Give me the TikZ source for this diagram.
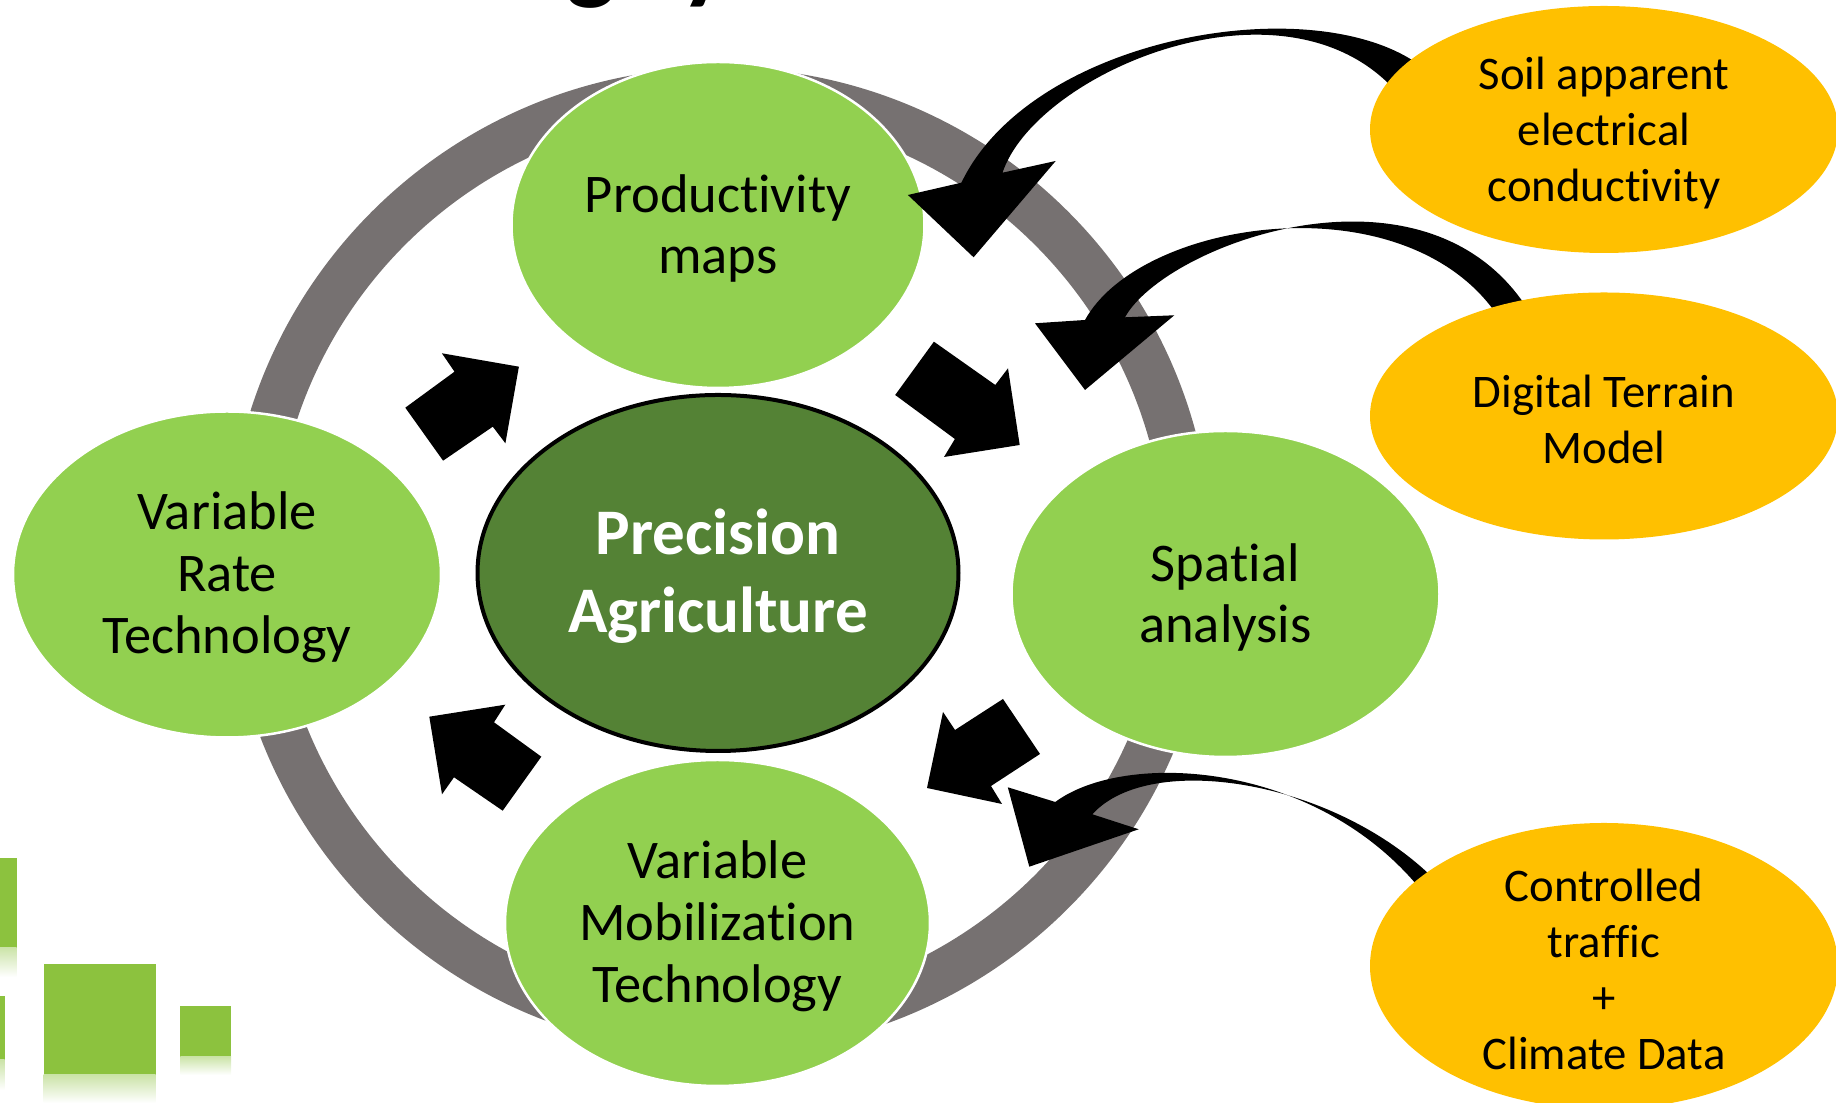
\documentclass[tikz,border=0pt]{standalone}
\usepackage{fontspec}
\setmainfont[Ligatures={NoCommon,NoContextual}]{Carlito}
\usetikzlibrary{shapes.geometric}
\definecolor{lgreen}{HTML}{92D050}
\definecolor{dgreen}{HTML}{548235}
\definecolor{ringgray}{HTML}{767171}
\definecolor{goldc}{HTML}{FFC000}
\definecolor{sqgreen}{RGB}{140,194,62}
\newcommand{\nl}{\kern0pt }
\begin{document}
\begin{tikzpicture}[x=0.1mm,y=-0.1mm,
  sat/.style={ellipse, fill=lgreen, draw=white, line width=0.25mm, inner sep=0pt,
    minimum height=32.6mm},
  sattext/.style={align=center, inner sep=0pt, font=\fontsize{15.5}{17.6}\selectfont},
  hub/.style={ellipse, fill=dgreen, draw=black, line width=0.4mm, inner sep=0pt,
    minimum width=48.1mm, minimum height=35.6mm},
  hubtext/.style={align=center, inner sep=0pt, text=white, font=\fontsize{18.5}{22.3}\selectfont\bfseries},
  src/.style={ellipse, fill=goldc, inner sep=0pt, minimum width=46.8mm},
  srctext/.style={align=center, inner sep=0pt, font=\fontsize{13.3}{16}\selectfont},
  blockarr/.style={fill=black},
  curvearr/.style={fill=black},
  sq/.style={fill=sqgreen},
  sqrefl/.style={top color=sqgreen!45, bottom color=white},
  titlefrag/.style={anchor=base west, inner sep=0pt, font=\fontsize{30}{36}\selectfont\bfseries}]
\useasboundingbox (0,0) rectangle (1836,1103);
\clip (0,0) rectangle (1836,1103);

% ring
\draw[ringgray, line width=4.7mm] (720,560) circle [radius=469];

% green ellipses
\node[sat, minimum width=41.3mm] (prod) at (718,225) {};
\node[sattext] (prodt) at ([yshift=-0.35mm]prod.center) {Produc\nl tivity\\maps};
\node[sat, minimum width=42.8mm] (spat) at (1225.5,594) {};
\node[sattext] (spatt) at ([yshift=-0.35mm]spat.center) {Spa\nl tial\\analysis};
\node[sat, minimum width=42.5mm] (vmob) at (717.5,923) {};
\node[sattext] (vmobt) at ([yshift=-0.3mm]vmob.center) {Variable\\Mobiliza\nl tion\\Technology};
\node[sat, minimum width=42.8mm] (vrt) at (227,574.5) {};
\node[sattext] (vrtt) at ([yshift=-0.3mm]vrt.center) {Variable\\Rate\\Technology};
\node[hub] (pa) at (718,573) {};
\node[hubtext] (pat) at ([yshift=-0.35mm]pa.center) {Precision\\Agriculture};

% block arrows
\fill[blockarr] (441.9,353.3) -- (518.9,366.7) -- (505.4,443.3) -- (492.8,426.7) -- (443.1,460.7) -- (405.3,407.7) -- (454.5,371.7) -- cycle;
\fill[blockarr] (933.9,341.7) -- (995.3,385) -- (1008,368.3) -- (1019.7,445) -- (944,457) -- (954.9,439) -- (895.2,395) -- cycle;
\fill[blockarr] (1003,699) -- (1040,754) -- (991,786) -- (1002,804) -- (927,788) -- (943,712) -- (955,730) -- cycle;
\fill[blockarr] (429.3,716.7) -- (505.3,704.7) -- (494,722.3) -- (541.3,756.7) -- (502.7,810.7) -- (454,777.3) -- (442,794.3) -- cycle;

% curved arrows
\fill[curvearr] (1412,60) .. controls (1300,-10) and (1030,40) .. (961.4,182.7) -- (907.9,195) -- (973.6,257.3) -- (1055.7,161) -- (1002.5,172.7) .. controls (1035,75) and (1275,-30) .. (1390,85) -- cycle;
\fill[curvearr] (1495,312) .. controls (1400,180) and (1140,220) .. (1085,320) -- (1035,323.3) -- (1085,390) -- (1174.3,315.3) -- (1125,317.3) .. controls (1165,245) and (1420,150) .. (1525,305) -- cycle;
\fill[curvearr] (1425,895) .. controls (1320,760) and (1125,750) .. (1055.3,802) -- (1007.8,787.3) -- (1029.3,866.7) -- (1138.7,829.3) -- (1092.4,814.3) .. controls (1150,750) and (1340,780) .. (1440,885) -- cycle;

% orange ellipses
\node[src, minimum height=24.7mm] (soil) at (1604,129.5) {};
\node[srctext] (soilt) at ([yshift=-0.35mm]soil.center) {Soil apparent\\electrical\\conduc\nl tivity};
\node[src, minimum height=24.7mm] (dtm) at (1604,416) {};
\node[srctext] (dtmt) at ([yshift=-0.35mm]dtm.center) {Digital Terrain\\Model};
\node[src, minimum height=28.6mm] (ctf) at (1604,966) {};
\node[srctext] (ctft) at ([yshift=-0.35mm]ctf.center) {Controlled\\traf\nl f\nl ic\\+\\Climate Data};

% decorative squares
\fill[sq] (0,858) rectangle (16.7,947.7);
\shade[sqrefl] (0,947.7) rectangle (16.7,977);
\fill[sq] (0,995.7) rectangle (4.7,1060);
\shade[sqrefl] (0,1060) rectangle (4.7,1090);
\fill[sq] (43.7,964) rectangle (155.7,1075);
\shade[sqrefl] (43.7,1075) rectangle (155.7,1103);
\fill[sq] (180.3,1006) rectangle (231,1056.7);
\shade[sqrefl] (180.3,1056.7) rectangle (231,1075);

% title fragment
\node[titlefrag] (tg) at (566,-9) {g};
\node[titlefrag] (ty) at (680,-9) {y};
\end{tikzpicture}
\end{document}
